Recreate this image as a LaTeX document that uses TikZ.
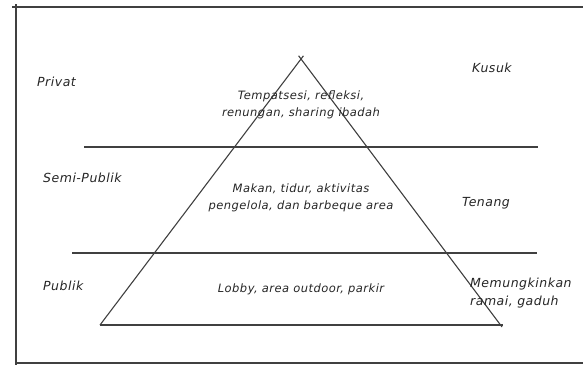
\documentclass[tikz,border=0pt]{standalone}
\usepackage{fontspec}
\setmainfont{DejaVu Sans}[LetterSpace=4]
\usetikzlibrary{calc}
\begin{document}
\begin{tikzpicture}[x=1pt,y=-1pt,
  sketch/.style={draw=black!75, line width=1.1pt},
  lbl/.style={font=\fontsize{11.5}{16.5}\selectfont\itshape, text=black!85, inner sep=0pt, align=center},
  side/.style={lbl, font=\fontsize{12.5}{18}\selectfont\itshape, anchor=west, align=left}]
\useasboundingbox (0,0) rectangle (583,365);
% frame
\draw[sketch] (12,7) -- (583,7);
\draw[sketch] (16,4) -- (16,365);
\draw[sketch] (16,363) -- (583,363);
% triangle
\coordinate (apex) at (301,59);
\coordinate (bl) at (100,325);
\coordinate (br) at (502,327);
\draw[sketch] ($(apex)!-0.012!(bl)$) -- (bl);
\draw[sketch] ($(apex)!-0.012!(br)$) -- (br);
\draw[sketch] (bl) -- (503,325);
% division lines
\coordinate (l1a) at (84,147); \coordinate (l1b) at (538,147);
\coordinate (l2a) at (72,253); \coordinate (l2b) at (537,253);
\draw[sketch] (l1a) -- (l1b);
\draw[sketch] (l2a) -- (l2b);
% labels
\node[side] (privat) at (37,82) {Privat};
\node[side] (semi) at (43,178) {Semi-Publik};
\node[side] (publik) at (43,286) {Publik};
\node[lbl] (top) at (301,105) {Tempatsesi, refleksi,\\renungan, sharing ibadah};
\node[lbl] (mid) at (301,198) {Makan, tidur, aktivitas\\pengelola, dan barbeque area};
\node[lbl] (low) at (301,289) {Lobby, area outdoor, parkir};
\node[side] (kusuk) at (472,68) {Kusuk};
\node[side] (tenang) at (462,203) {Tenang};
\node[side] (ramai) at (470,293) {Memungkinkan\\ramai, gaduh};
\end{tikzpicture}
\end{document}
